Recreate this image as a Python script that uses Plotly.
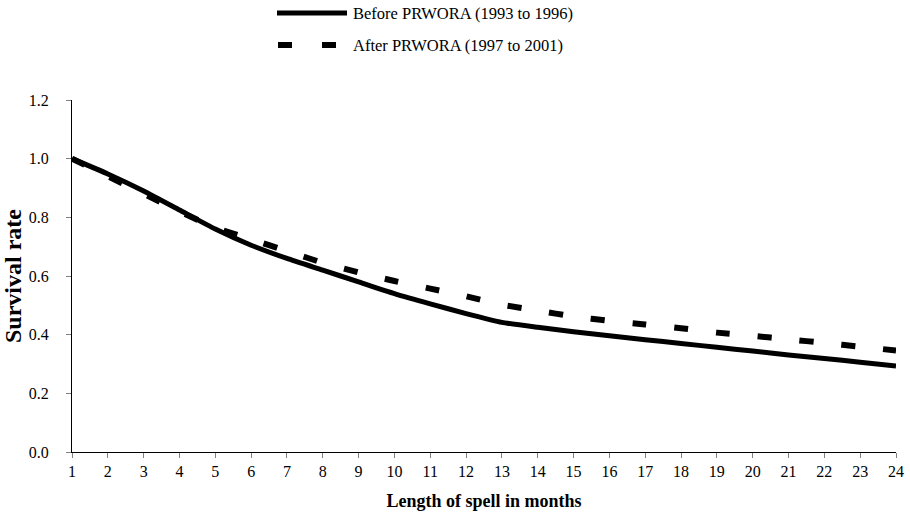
import plotly.graph_objects as go

# months 1..24, survival rates
months = list(range(1, 25))
before_prwora = [1.000, 0.948, 0.890, 0.825, 0.760, 0.705, 0.660, 0.620, 0.580, 0.540,
                 0.505, 0.472, 0.442, 0.425, 0.410, 0.396, 0.383, 0.370, 0.357, 0.344,
                 0.331, 0.319, 0.306, 0.293]
after_prwora = [1.000, 0.940, 0.880, 0.820, 0.765, 0.725, 0.685, 0.645, 0.612, 0.583,
                0.557, 0.531, 0.502, 0.482, 0.462, 0.447, 0.435, 0.422, 0.407, 0.396,
                0.384, 0.372, 0.359, 0.346]
y_ticks = [0.0, 0.2, 0.4, 0.6, 0.8, 1.0, 1.2]
series_names = ["Before PRWORA (1993 to 1996)", "After PRWORA (1997 to 2001)"]

FONT = "Liberation Serif, Times New Roman, serif"
W, H = 910, 529
L, R, T, B = 72, 14, 100, 77


def px_to_paper(px, py):
    """Convert page pixel coordinates into paper coordinates."""
    pw, ph = W - L - R, H - T - B
    return (px - L) / pw, (H - B - py) / ph


fig = go.Figure()
fig.add_trace(go.Scatter(x=months, y=before_prwora, mode="lines", name=series_names[0],
                         line=dict(color="black", width=5, shape="spline", smoothing=0.5),
                         showlegend=False))
fig.add_trace(go.Scatter(x=months, y=after_prwora, mode="lines", name=series_names[1],
                         line=dict(color="black", width=6, dash="14px,28px",
                                   shape="spline", smoothing=0.5),
                         showlegend=False))

# hand-drawn legend above the plot
x0, y0 = px_to_paper(277, 13)
x1, _ = px_to_paper(347, 13)
fig.add_shape(type="line", xref="paper", yref="paper", x0=x0, x1=x1, y0=y0, y1=y0,
              line=dict(color="black", width=5))
x0, y1 = px_to_paper(278, 45)
x1, _ = px_to_paper(336, 45)
fig.add_shape(type="line", xref="paper", yref="paper", x0=x0, x1=x1, y0=y1, y1=y1,
              line=dict(color="black", width=6, dash="14px,30px"))
tx, _ = px_to_paper(351, 0)
for name, yy in zip(series_names, [y0, y1]):
    fig.add_annotation(text=name, xref="paper", yref="paper", x=tx, y=yy,
                       xanchor="left", yanchor="middle", showarrow=False,
                       font=dict(family=FONT, size=16.5, color="black"))

fig.update_layout(
    width=W, height=H, margin=dict(l=L, r=R, t=T, b=B),
    paper_bgcolor="white", plot_bgcolor="white",
    font=dict(family=FONT, size=15, color="black"),
    xaxis=dict(range=[1, 24], tickvals=months, ticks="outside", ticklen=5,
               tickcolor="#808080", showline=True, linecolor="black", linewidth=1,
               showgrid=False, zeroline=False, ticklabelstandoff=0, automargin=False,
               tickfont=dict(size=16),
               title=dict(text="<b>Length of spell in months</b>", standoff=15,
                          font=dict(family=FONT, size=18))),
    yaxis=dict(range=[0, 1.2], tickvals=y_ticks, tickformat=".1f", ticks="outside",
               ticklen=5, tickcolor="#808080", showline=True, linecolor="black",
               linewidth=1, showgrid=False, zeroline=False, ticklabelstandoff=14,
               automargin=False, tickfont=dict(size=16),
               title=dict(text="<b>Survival rate</b>", standoff=0,
                          font=dict(family=FONT, size=24))),
)

# drop the browser's default page margin so the figure sits at the window corner
fig.write_html("out.html", config={"displayModeBar": False},
               post_script="document.body.style.margin = '0';")
